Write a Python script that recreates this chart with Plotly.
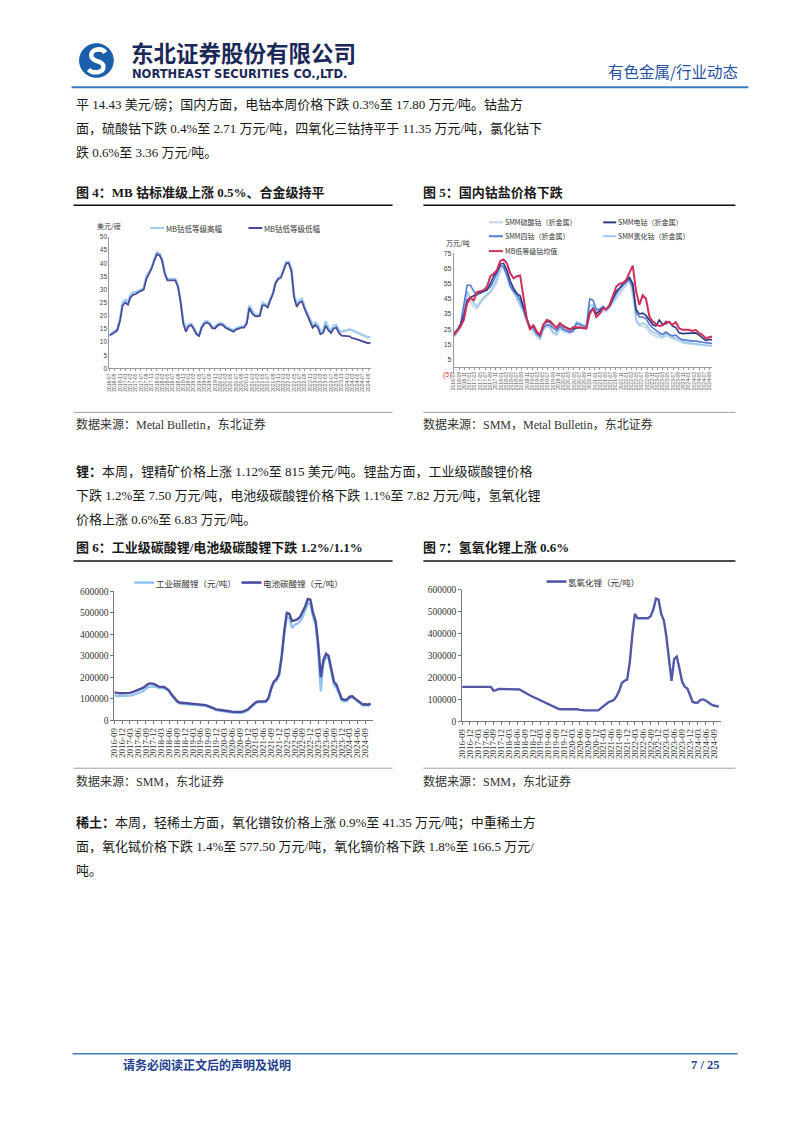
import pandas as pd
import plotly.graph_objects as go

W, H = 802, 1133
SERIF = "Liberation Serif, Noto Sans CJK SC"
SANS = "Liberation Sans, Noto Sans CJK SC"
CJK = "Noto Sans CJK SC"

# ---------------- data ----------------
# fig 4: MB cobalt (USD/lb), monthly
mb_high = [12.8, 13.3, 14.2, 15, 19, 25, 26, 25.5, 28, 29,
           29, 29.5, 30, 30.5, 35, 37, 38.5, 41.5, 44, 43.8,
           41.5, 36.5, 34, 34, 34, 34, 31.5, 26, 18, 15,
           16.8, 17, 15.5, 13.5, 12.7, 16, 17.8, 18, 17.3, 15.8,
           15.7, 16.8, 17.3, 17, 16, 15.5, 15, 14.5, 15.3, 15.8,
           16, 16, 17.5, 24, 22, 20.5, 20.3, 20.5, 25, 24.5,
           24, 26.5, 29, 33, 34.5, 35, 38, 40.5, 40.5, 38,
           28, 24.5, 26, 26.5, 23.5, 21, 19, 16.5, 17.5, 16.5,
           14, 14.5, 18, 15.5, 14.5, 16.3, 16.5, 14.5, 14, 14.2,
           14.6, 14.8, 14.5, 14, 13.6, 13.2, 12.7, 12.3, 11.8, 12]
mb_low = [12.5, 13.0, 13.8, 14.5, 18, 24, 25, 24.2, 27, 28,
          28.3, 29, 29.5, 30, 34, 36, 38, 41, 43.5, 43,
          41, 36, 33.5, 33.5, 33.5, 33.5, 31, 25, 17, 14,
          16, 16.5, 15, 13, 12.3, 15.5, 17, 17.5, 16.8, 15.3,
          15.2, 16.3, 16.8, 16.5, 15.5, 15, 14.5, 14, 14.8, 15.3,
          15.5, 15.5, 17, 23, 21, 20, 19.8, 20, 24, 24,
          23.2, 26, 28.5, 32.5, 34, 34.5, 37.5, 40, 40, 37,
          27, 23.5, 25, 25.5, 22.5, 20, 18, 15.5, 16.5, 15.5,
          13, 13.5, 16.3, 14.5, 13.5, 15.2, 15.5, 13.5, 12.5, 12.5,
          12.3, 12.2, 11.5, 11.3, 11.0, 10.5, 10.2, 9.8, 9.6, 9.8]
dates4 = pd.date_range("2016-07-01", periods=len(mb_low), freq="MS")

# fig 5: domestic cobalt salts (10k CNY/t)
co_sulfate = [20, 22.5, 26, 35, 48, 43, 40, 38.5, 42, 45,
              47, 49, 52, 56, 64, 65.5, 59, 52, 49, 45,
              41, 36, 30, 26, 23, 20, 18, 24, 26.5, 25.5,
              22, 21, 25, 23.5, 22.5, 22, 23, 26, 25.5, 25,
              25, 37, 38, 36, 35.5, 36.5, 37, 39, 42, 45,
              48, 51, 54, 57, 47, 30, 27, 27, 26, 23,
              21, 20, 19.5, 19, 20.5, 19.5, 18.5, 18, 17, 16,
              15.5, 15.3, 15, 15, 14.7, 14.3, 14, 13.8, 13.5]
co_metal = [22, 24.5, 28, 34, 44, 46, 47, 49, 49, 50,
            51, 55, 60, 63, 68, 68.5, 64, 57, 52, 48.5,
            47, 40, 32, 26, 27, 23, 21, 28, 30, 29.5,
            28, 26, 28.5, 27, 26, 25, 25.5, 25.5, 26, 25.5,
            25.5, 36, 39, 35, 37, 39, 38, 40, 45, 50,
            52, 55, 57, 59, 55, 38, 35, 35.5, 34, 31,
            28, 27, 31, 28, 28.5, 30, 27, 26, 22.5, 22,
            22, 22, 22.3, 22.5, 21, 19, 17.5, 18, 18]
co_oxide = [21, 24, 28, 40, 54, 54, 50, 47.5, 49, 50,
            51, 53, 57, 62, 67, 66, 61, 54, 50, 48,
            44, 38, 31, 26, 26, 22, 20, 26, 28, 27.5,
            26, 24, 27, 25, 24, 23, 24, 28.5, 28, 27,
            27, 45, 44, 38, 38, 40, 38, 41, 45, 49,
            52, 54, 56, 58, 52, 36, 33, 33, 32, 28,
            26, 24, 22.5, 21.5, 23, 21.5, 20.5, 21, 19, 18,
            17.5, 17.5, 17, 17, 16.5, 16.3, 16, 15.8, 15.5]
co_chloride = [20.5, 23, 27, 37, 50, 46, 42, 40, 43, 46,
               48, 50, 54, 58, 66, 67, 60, 53, 50, 46,
               42, 37, 30, 25, 24, 21, 19, 25, 27.5, 26.5,
               23, 22, 26, 24, 23, 23, 24, 30, 29, 27.5,
               27, 40, 41, 37, 37, 38, 37.5, 40, 43, 47,
               50, 53, 56, 60, 55, 32, 28, 29, 28, 25,
               23, 22, 21, 20, 22, 20.5, 19.5, 19, 18, 16.5,
               16, 15.8, 15.5, 15.5, 15, 14.7, 14.4, 14.2, 14]
mb_avg = [21, 23.5, 26.7, 31, 42, 45.7, 44, 49.5, 50, 50.7,
          53, 60, 61.6, 64, 70, 71, 68.5, 62, 58.5, 60,
          60.5, 47, 32, 24.5, 27.8, 23.4, 21.2, 27.8, 31, 30.4,
          27.8, 25.6, 29, 26.7, 25.6, 24.5, 26.2, 26.2, 26.2, 25.6,
          25.6, 35, 38.7, 33, 35, 38.7, 38, 41, 47, 53,
          55, 55.5, 57.5, 62.7, 67, 50, 41, 47.4, 45, 33.5,
          30, 28.4, 27, 27.5, 30, 29.5, 27.8, 29.5, 25.6, 24.5,
          24.5, 24.5, 23.8, 24.5, 22.3, 21.2, 19, 19.5, 20.1]
dates5 = pd.date_range("2016-07-01", "2024-10-01", periods=len(mb_avg))
y5_ticks = [-5, 5, 15, 25, 35, 45, 55, 65, 75]
y5_text = ["<span style='color:#e8403a'>(5)</span>", "5", "15", "25", "35", "45", "55", "65", "75"]

# fig 6: lithium carbonate (CNY/t), monthly from 2016-09
li2co3_ind = [v * 1000 for v in [
    118, 113, 113, 113, 113, 114, 115, 117, 121, 124,
    128, 135, 145, 155, 157, 158, 155, 150, 150, 150,
    145, 135, 115, 100, 85, 78, 77, 77, 76, 75,
    74, 73, 72, 71, 70, 67, 62, 56, 51, 47,
    45, 44, 42, 40, 38, 36, 35, 34, 35, 36,
    40, 46, 58, 70, 78, 84, 85, 84, 85, 100,
    145, 172, 185, 205, 285, 400, 480, 475, 430, 445,
    450, 460, 480, 510, 545, 540, 480, 440, 320, 135,
    260, 295, 285, 225, 165, 150, 120, 92, 88, 90,
    105, 107, 97, 88, 78, 70, 71, 69, 73]]
li2co3_bat = [v * 1000 for v in [
    130, 127, 126, 126, 126, 127, 128, 131, 136, 141,
    146, 151, 160, 170, 172, 170, 164, 157, 156, 155,
    148, 138, 120, 105, 90, 83, 82, 82, 81, 80,
    79, 78, 77, 76, 75, 71, 66, 60, 55, 51,
    49, 48, 46, 44, 42, 40, 39, 38, 39, 40,
    45, 50, 62, 75, 83, 88, 89, 88, 89, 105,
    150, 180, 192, 215, 300, 420, 500, 495, 462, 465,
    470, 480, 505, 530, 565, 562, 500, 460, 360, 200,
    280, 310, 300, 240, 180, 165, 130, 100, 95, 97,
    110, 112, 102, 92, 82, 74, 75, 73, 78]]
# fig 7: lithium hydroxide (CNY/t)
lioh = [v * 1000 for v in [
    157, 157, 157, 157, 157, 157, 157, 157, 157, 157,
    157, 157, 140, 142, 148, 148, 148, 148, 148, 148,
    148, 148, 145, 138, 130, 125, 118, 112, 106, 103,
    98, 92, 85, 78, 72, 66, 60, 56, 55, 55,
    55, 56, 56, 56, 55, 52, 50, 50, 50, 50,
    50, 50, 50, 60, 70, 78, 88, 92, 98, 115,
    140, 175, 185, 190, 270, 400, 490, 470, 470, 470,
    470, 470, 480, 510, 560, 555, 490, 460, 390, 280,
    185, 285, 295, 240, 180, 158, 150, 120, 88, 85,
    86, 98, 100, 95, 85, 78, 72, 68, 67]]
dates67 = pd.date_range("2016-09-01", periods=len(lioh), freq="MS")
y67_ticks = [0, 100000, 200000, 300000, 400000, 500000, 600000]

para1 = ["平 14.43 美元/磅；国内方面，电钴本周价格下跌 0.3%至 17.80 万元/吨。钴盐方",
         "面，硫酸钴下跌 0.4%至 2.71 万元/吨，四氧化三钴持平于 11.35 万元/吨，氯化钴下",
         "跌 0.6%至 3.36 万元/吨。"]
para2 = ["<b>锂：</b>本周，锂精矿价格上涨 1.12%至 815 美元/吨。锂盐方面，工业级碳酸锂价格",
         "下跌 1.2%至 7.50 万元/吨，电池级碳酸锂价格下跌 1.1%至 7.82 万元/吨，氢氧化锂",
         "价格上涨 0.6%至 6.83 万元/吨。"]
para3 = ["<b>稀土：</b>本周，轻稀土方面，氧化镨钕价格上涨 0.9%至 41.35 万元/吨；中重稀土方",
         "面，氧化铽价格下跌 1.4%至 577.50 万元/吨，氧化镝价格下跌 1.8%至 166.5 万元/",
         "吨。"]


def X(px):
    return px / W


def Y(py):
    return 1 - py / H


shapes = []
annotations = []


def text(x, y, s, size, color="#1a1a1a", family=SERIF, anchor="left"):
    annotations.append(dict(x=X(x), y=Y(y), xref="paper", yref="paper", text=s,
                            showarrow=False, xanchor=anchor, yanchor="middle",
                            borderpad=0, font=dict(size=size, color=color, family=family)))


def hline(x0, x1, y, color, width):
    shapes.append(dict(type="line", xref="paper", yref="paper", x0=X(x0), x1=X(x1),
                       y0=Y(y), y1=Y(y), line=dict(color=color, width=width)))


def key(x0, length, y, color, width, label, size):
    hline(x0, x0 + length, y, color, width)
    text(x0 + length + 1, y, label, size, color="#333", family=CJK)


fig = go.Figure()

# ---- fig 4 ----
fig.add_trace(go.Scatter(x=dates4, y=mb_high, mode="lines", line=dict(color="#a3cdf0", width=2.4),
                         xaxis="x", yaxis="y", showlegend=False))
fig.add_trace(go.Scatter(x=dates4, y=mb_low, mode="lines", line=dict(color="#474b9b", width=1.8),
                         xaxis="x", yaxis="y", showlegend=False))
# ---- fig 5 ----
for ys, c, w in [(co_sulfate, "#c3d5e8", 1.6), (co_chloride, "#9ec8ef", 1.6),
                 (co_oxide, "#5479d3", 1.6), (co_metal, "#2e3a7c", 1.6), (mb_avg, "#d12f5c", 2)]:
    fig.add_trace(go.Scatter(x=dates5, y=ys, mode="lines", line=dict(color=c, width=w),
                             xaxis="x2", yaxis="y2", showlegend=False))
# ---- fig 6 ----
fig.add_trace(go.Scatter(x=dates67, y=li2co3_ind, mode="lines", line=dict(color="#8fc3ee", width=2.2),
                         xaxis="x3", yaxis="y3", showlegend=False))
fig.add_trace(go.Scatter(x=dates67, y=li2co3_bat, mode="lines", line=dict(color="#4a4f9e", width=2.4),
                         xaxis="x3", yaxis="y3", showlegend=False))
# ---- fig 7 ----
fig.add_trace(go.Scatter(x=dates67, y=lioh, mode="lines", line=dict(color="#5259a6", width=2.4),
                         xaxis="x4", yaxis="y4", showlegend=False))

small_ax = dict(showline=True, linecolor="#9a9a9a", linewidth=1, showgrid=False, zeroline=False)
date_small = dict(small_ax, type="date", tickformat="%Y-%m", dtick="M2", tickangle=-90,
                  ticks="outside", ticklen=2, tickcolor="#9a9a9a",
                  tickfont=dict(size=5, family=SANS, color="#555"))
big_ax = dict(showline=True, linecolor="#777", linewidth=1, showgrid=False, zeroline=False,
              ticks="outside", ticklen=3, tickcolor="#777")
date_big = dict(big_ax, type="date", tickformat="%Y-%m", dtick="M3", tick0="2016-09-01",
                tickangle=-90, tickfont=dict(size=9, family=SERIF, color="#333"))

y5_bot, y5_top = Y(372.7), Y(250.7)
fig.update_layout(
    xaxis=dict(date_small, domain=[X(105), X(368)], anchor="y", range=[dates4[0], dates4[-1]],
               tick0=dates4[0]),
    yaxis=dict(small_ax, domain=[Y(366.7), Y(234)], anchor="x", range=[0, 50], dtick=5,
               tickfont=dict(size=6.5, family=SANS, color="#444")),
    xaxis2=dict(date_small, domain=[X(451.7), X(711.7)], anchor="free",
                position=y5_bot + (5 / 80) * (y5_top - y5_bot),
                range=[dates5[0], dates5[-1]], tick0=dates5[0]),
    yaxis2=dict(small_ax, domain=[y5_bot, y5_top], anchor="x2", range=[-5, 75],
                tickvals=y5_ticks, ticktext=y5_text,
                tickfont=dict(size=7, family=SANS, color="#444")),
    xaxis3=dict(date_big, domain=[X(110), X(370)], anchor="y3", range=["2016-09-01", "2024-11-25"]),
    yaxis3=dict(big_ax, domain=[Y(721.7), Y(591.7)], anchor="x3", range=[0, 600000],
                tickvals=y67_ticks, tickformat="d",
                tickfont=dict(size=9.5, family=SERIF, color="#333")),
    xaxis4=dict(date_big, domain=[X(460), X(720.7)], anchor="y4", range=["2016-09-01", "2024-11-28"]),
    yaxis4=dict(big_ax, domain=[Y(722.7), Y(590)], anchor="x4", range=[0, 600000],
                tickvals=y67_ticks, tickformat="d",
                tickfont=dict(size=9.5, family=SERIF, color="#333")),
)

# ---- legends (drawn as keys) ----
key(146, 14, 225, "#a3cdf0", 2, "MB钴低等级高幅", 7.5)
key(245, 14, 225, "#474b9b", 2, "MB钴低等级低幅", 7.5)
text(92, 223, "美元/磅", 7, color="#333", family=CJK)

key(487, 14, 219.3, "#c3d5e8", 2, "SMM硫酸钴（折金属）", 7)
key(602, 13, 219.3, "#2e3a7c", 2, "SMM电钴（折金属）", 7)
key(487, 14, 233.3, "#5479d3", 2, "SMM四钴（折金属）", 7)
key(602, 13, 233.3, "#9ec8ef", 2, "SMM氯化钴（折金属）", 7)
key(487, 14, 248.3, "#d12f5c", 2, "MB低等级钴均值", 7)
text(443, 240, "万元/吨", 7, color="#333", family=CJK)

key(130, 20, 582.7, "#8fc3ee", 2.4, "工业碳酸锂（元/吨）", 8.5)
key(238, 20, 582.7, "#4a4f9e", 2.6, "电池碳酸锂（元/吨）", 8.5)
key(545, 20, 581.7, "#5259a6", 2.6, "氢氧化锂（元/吨）", 8.5)

# ---- header ----
shapes.append(dict(type="circle", xref="paper", yref="paper", x0=X(75), x1=X(109), y0=Y(73), y1=Y(39),
                   fillcolor="#1b5fab", line=dict(color="#1b5fab", width=1)))
pts = [(101, 48), (97, 42.5), (85, 44.5), (87, 52), (89, 58.5), (99, 55.5), (99, 62), (99, 69), (88, 69.5), (84, 65)]
path = "M {} {}".format(X(pts[0][0]), Y(pts[0][1]))
for i in range(1, len(pts), 3):
    path += " C " + ", ".join("{} {}".format(X(a), Y(b)) for a, b in pts[i:i + 3])
shapes.append(dict(type="path", xref="paper", yref="paper", path=path, line=dict(color="white", width=4.5)))
text(126, 47, "<b>东北证券股份有限公司</b>", 22.5, color="#1c2858", family=CJK)
text(127, 69.5, "<b>NORTHEAST SECURITIES CO.,LTD.</b>", 11.5, color="#1c2858", family="DejaVu Sans")
text(739, 67, "有色金属/行业动态", 15.5, color="#2652a3", family=CJK, anchor="right")
hline(67, 748, 83, "#3a7cc4", 2)

# ---- body text ----
for lines, y0 in [(para1, 101), (para2, 471), (para3, 825)]:
    for i, s in enumerate(lines):
        text(70, y0 + 24 * i, s, 13)

# ---- chart titles / sources ----
text(70, 189, "<b>图 4：MB 钴标准级上涨 0.5%、合金级持平</b>", 13)
text(420, 189, "<b>图 5：国内钴盐价格下跌</b>", 13)
text(70, 547, "<b>图 6：工业级碳酸锂/电池级碳酸锂下跌 1.2%/1.1%</b>", 13)
text(420, 547, "<b>图 7：氢氧化锂上涨 0.6%</b>", 13)
for x0, x1 in [(69, 390), (421, 735)]:
    hline(x0, x1, 202, "#111", 1.6)
    hline(x0, x1, 561, "#111", 1.6)
    hline(x0, x1, 411, "#a0a0a0", 1)
    hline(x0, x1, 770, "#a0a0a0", 1)
text(70, 423, "数据来源：Metal Bulletin，东北证券", 12, color="#333")
text(420, 423, "数据来源：SMM，Metal Bulletin，东北证券", 12, color="#333")
text(70, 783, "数据来源：SMM，东北证券", 12, color="#333")
text(420, 783, "数据来源：SMM，东北证券", 12, color="#333")

# ---- footer ----
hline(68, 737, 1058, "#3a7cc4", 1.5)
text(118, 1069, "<b>请务必阅读正文后的声明及说明</b>", 12, color="#22408f", family=CJK)
text(719, 1069, "<b>7 / 25</b>", 12.5, color="#22408f", anchor="right")

fig.update_layout(width=W, height=H, margin=dict(l=0, r=0, t=0, b=0),
                  paper_bgcolor="white", plot_bgcolor="white",
                  shapes=shapes, annotations=annotations, showlegend=False)
fig.write_html("out.html", config={"displayModeBar": False},
               post_script="document.body.style.margin='0';")
